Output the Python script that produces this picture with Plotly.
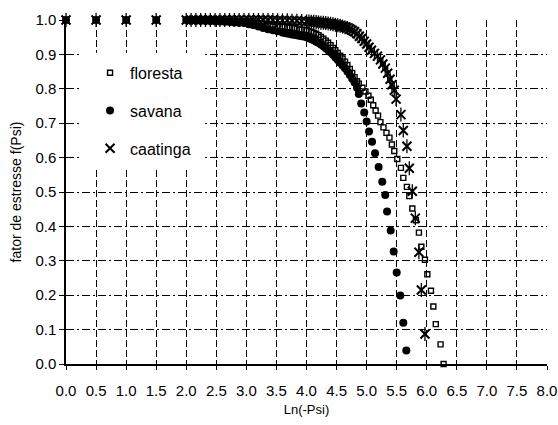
import plotly.graph_objects as go

# Stress factor f(Psi) against Ln(-Psi) for three vegetation types
floresta_x = [0.0, 0.5, 1.0, 1.5,
              2.00, 2.08, 2.16, 2.24, 2.32, 2.40, 2.48, 2.56, 2.64, 2.72, 2.80, 2.88, 2.96,
              3.04, 3.12, 3.20, 3.28, 3.36, 3.44, 3.52,
              3.60, 3.64, 3.68, 3.72, 3.76, 3.80, 3.84, 3.88, 3.92, 3.96, 4.00, 4.04, 4.08, 4.12,
              4.16, 4.20, 4.24, 4.28, 4.32, 4.36, 4.40, 4.44, 4.48, 4.52, 4.56, 4.60, 4.64, 4.68,
              4.72, 4.76, 4.80, 4.84,
              4.87, 4.93, 4.98, 5.03, 5.07, 5.11, 5.15, 5.19, 5.23, 5.28, 5.33, 5.38, 5.42, 5.46,
              5.51, 5.57, 5.61, 5.67, 5.71, 5.76, 5.82, 5.87, 5.91, 5.97, 6.01, 6.07, 6.11, 6.15,
              6.23, 6.28]
floresta_y = [1.0, 1.0, 1.0, 1.0,
              1.000, 1.000, 1.000, 1.000, 0.999, 0.999, 0.999, 0.998, 0.998, 0.997, 0.997, 0.996, 0.995,
              0.994, 0.993, 0.991, 0.989, 0.987, 0.985, 0.983,
              0.981, 0.980, 0.979, 0.978, 0.977, 0.976, 0.975, 0.973, 0.972, 0.971, 0.970, 0.968, 0.966, 0.963,
              0.960, 0.956, 0.951, 0.946, 0.940, 0.934, 0.927, 0.919, 0.912, 0.904, 0.896, 0.888, 0.879, 0.869,
              0.858, 0.846, 0.834, 0.822,
              0.815, 0.803, 0.792, 0.780, 0.768, 0.752, 0.737, 0.722, 0.703, 0.688, 0.672, 0.658, 0.638, 0.619,
              0.596, 0.570, 0.541, 0.515, 0.488, 0.452, 0.418, 0.382, 0.341, 0.303, 0.261, 0.213, 0.167, 0.116,
              0.057, 0.000]

savana_x = [0.0, 0.5, 1.0, 1.5,
            2.00, 2.08, 2.16, 2.24, 2.32, 2.40, 2.48, 2.56, 2.64, 2.72, 2.80, 2.88, 2.96,
            3.04, 3.12, 3.20, 3.28, 3.36, 3.44, 3.52,
            3.60, 3.64, 3.68, 3.72, 3.76, 3.80, 3.84, 3.88, 3.92, 3.96, 4.00, 4.04, 4.08, 4.12,
            4.16, 4.20, 4.24, 4.28, 4.32, 4.36, 4.40, 4.44, 4.48, 4.52, 4.56, 4.60, 4.64, 4.68,
            4.72, 4.76, 4.80, 4.84,
            4.87, 4.91, 4.96, 5.00, 5.04, 5.09, 5.14, 5.20, 5.26, 5.31, 5.34, 5.40, 5.45, 5.50,
            5.56, 5.61, 5.66]
savana_y = [1.0, 1.0, 1.0, 1.0,
            1.000, 1.000, 0.999, 0.999, 0.998, 0.997, 0.997, 0.996, 0.995, 0.994, 0.993, 0.992, 0.991,
            0.988, 0.985, 0.981, 0.977, 0.973, 0.970, 0.967,
            0.964, 0.962, 0.961, 0.960, 0.958, 0.957, 0.956, 0.954, 0.953, 0.952, 0.950, 0.947, 0.944, 0.941,
            0.937, 0.934, 0.929, 0.924, 0.918, 0.912, 0.906, 0.899, 0.891, 0.884, 0.876, 0.868, 0.860, 0.850,
            0.840, 0.829, 0.818, 0.803,
            0.785, 0.757, 0.731, 0.705, 0.676, 0.646, 0.613, 0.573, 0.530, 0.491, 0.443, 0.388, 0.327, 0.266,
            0.199, 0.120, 0.039]

caatinga_x = [0.0, 0.5, 1.0, 1.5,
              2.00, 2.08, 2.16, 2.24, 2.32, 2.40, 2.48, 2.56, 2.64, 2.72, 2.80, 2.88, 2.96,
              3.04, 3.12, 3.20, 3.28, 3.36, 3.44, 3.52, 3.60, 3.68, 3.76, 3.84, 3.92,
              4.00, 4.04, 4.08, 4.12, 4.16, 4.20, 4.24, 4.28, 4.32, 4.36, 4.40, 4.44, 4.48, 4.52,
              4.56, 4.60, 4.64, 4.68, 4.72, 4.76, 4.80, 4.84, 4.88, 4.92, 4.96, 5.00, 5.04, 5.08,
              5.13, 5.18, 5.23, 5.27, 5.31, 5.35, 5.39, 5.42, 5.46, 5.49, 5.57,
              5.61, 5.67, 5.71, 5.76, 5.81, 5.87, 5.91, 5.97]
caatinga_y = [1.0, 1.0, 1.0, 1.0,
              1.000, 1.000, 1.000, 1.000, 1.000, 1.000, 1.000, 1.000, 1.000, 1.000, 1.000, 1.000, 1.000,
              1.000, 1.000, 1.000, 1.000, 1.000, 1.000, 0.999, 0.999, 0.999, 0.998, 0.998, 0.997,
              0.996, 0.996, 0.995, 0.995, 0.994, 0.993, 0.992, 0.992, 0.991, 0.990, 0.989, 0.988, 0.986, 0.985,
              0.983, 0.981, 0.979, 0.977, 0.974, 0.970, 0.966, 0.960, 0.953, 0.946, 0.938, 0.930, 0.921, 0.912,
              0.903, 0.895, 0.884, 0.872, 0.860, 0.845, 0.828, 0.812, 0.796, 0.770, 0.725,
              0.679, 0.633, 0.569, 0.502, 0.424, 0.325, 0.215, 0.087]

x_ticks = [0.0, 0.5, 1.0, 1.5, 2.0, 2.5, 3.0, 3.5, 4.0, 4.5, 5.0, 5.5, 6.0, 6.5, 7.0, 7.5, 8.0]
y_ticks = [0.0, 0.1, 0.2, 0.3, 0.4, 0.5, 0.6, 0.7, 0.8, 0.9, 1.0]

FONT = "Liberation Sans, Arial, sans-serif"
BLACK = "#000000"

fig = go.Figure()

fig.add_trace(go.Scatter(
    x=floresta_x, y=floresta_y, mode="markers", name="floresta",
    legendgroup="floresta", cliponaxis=False,
    marker=dict(symbol="square-open", size=5, color=BLACK, line=dict(width=1.4, color=BLACK)),
))
fig.add_trace(go.Scatter(
    x=savana_x, y=savana_y, mode="markers", name="savana",
    legendgroup="savana", cliponaxis=False,
    marker=dict(symbol="circle", size=8, color=BLACK, line=dict(width=0)),
))
fig.add_trace(go.Scatter(
    x=caatinga_x, y=caatinga_y, mode="markers", name="caatinga",
    legendgroup="caatinga", cliponaxis=False,
    marker=dict(symbol="x-thin-open", size=9, color=BLACK, line=dict(width=2.0, color=BLACK)),
))
# vertical stroke that turns the x into a six-armed star
fig.add_trace(go.Scatter(
    x=caatinga_x, y=caatinga_y, mode="markers", name="caatinga",
    legendgroup="caatinga", showlegend=False, cliponaxis=False, hoverinfo="skip",
    marker=dict(symbol="line-ns-open", size=10, color=BLACK, line=dict(width=1.3, color=BLACK)),
))

# white panel behind the legend
fig.add_shape(type="rect", layer="between", x0=0.23, x1=2.28, y0=0.573, y1=0.905,
              fillcolor="white", line=dict(width=0))

fig.update_layout(
    width=558, height=425,
    margin=dict(l=66, r=11, t=20, b=61),
    paper_bgcolor="white", plot_bgcolor="white",
    font=dict(family=FONT, size=14, color=BLACK),
    showlegend=True,
    legend=dict(
        x=0.05, y=0.896, xanchor="left", yanchor="top",
        bgcolor="rgba(0,0,0,0)", borderwidth=0,
        font=dict(family=FONT, size=16, color=BLACK),
        traceorder="grouped", tracegroupgap=14,
    ),
    xaxis=dict(
        range=[0, 8], tickvals=x_ticks, tickformat=".1f", automargin=False,
        showline=True, linecolor=BLACK, linewidth=1.5,
        ticks="outside", ticklen=4, tickcolor=BLACK, tickwidth=1.3,
        tickfont=dict(family=FONT, size=15, color=BLACK),
        ticklabelstandoff=8,
        showgrid=True, gridcolor=BLACK, gridwidth=1.2, griddash="7px,3px",
        zeroline=False,
        title=dict(text="Ln(-Psi)", font=dict(family=FONT, size=13, color=BLACK), standoff=7),
    ),
    yaxis=dict(
        range=[0, 1.0], tickvals=y_ticks, tickformat=".1f", automargin=False,
        showline=True, linecolor=BLACK, linewidth=1.5,
        ticks="outside", ticklen=5, tickcolor=BLACK, tickwidth=1.3,
        tickfont=dict(family=FONT, size=15, color=BLACK),
        showgrid=True, gridcolor=BLACK, gridwidth=1.2, griddash="8px,3px,2px,3px",
        zeroline=False,
        title=dict(text="fator de estresse f(Psi)", font=dict(family=FONT, size=14, color=BLACK), standoff=10),
    ),
)

fig.write_html("out.html")
